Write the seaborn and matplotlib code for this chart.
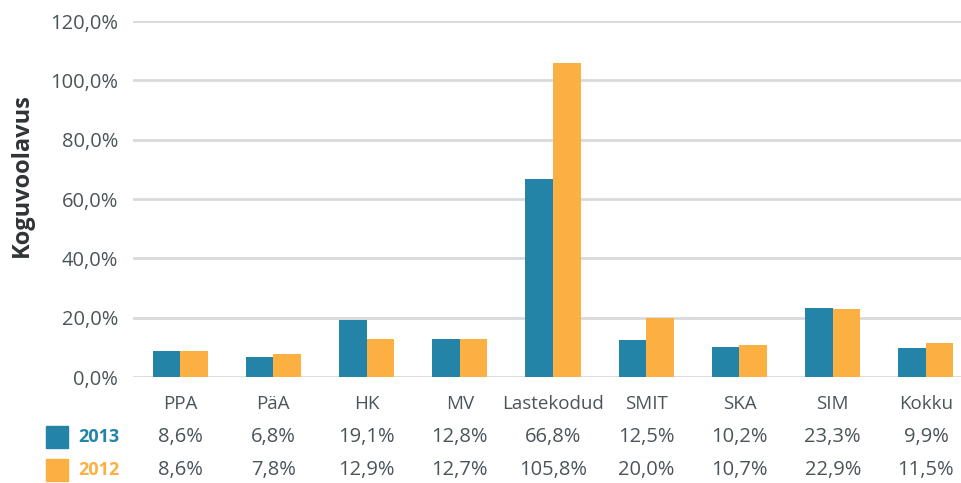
import matplotlib
matplotlib.use("Agg")
import matplotlib.pyplot as plt
import matplotlib.transforms as mtransforms
from matplotlib.patches import Rectangle
import seaborn as sns
import pandas as pd

categories = ["PPA", "PäA", "HK", "MV", "Lastekodud", "SMIT", "SKA", "SIM", "Kokku"]
values_2013 = [8.6, 6.8, 19.1, 12.8, 66.8, 12.5, 10.2, 23.3, 9.9]
values_2012 = [8.6, 7.8, 12.9, 12.7, 105.8, 20.0, 10.7, 22.9, 11.5]
series = ["2013", "2012"]
yticks = [0, 20, 40, 60, 80, 100, 120]

teal = "#2384a8"
orange = "#fbb041"
text_col = "#4b5559"

sns.set_theme(style="white")
plt.rcParams["font.family"] = ["Open Sans", "DejaVu Sans"]

df = pd.DataFrame({
    "cat": categories * 2,
    "year": [series[0]] * len(categories) + [series[1]] * len(categories),
    "val": values_2013 + values_2012,
})

fig = plt.figure(figsize=(9.61, 4.83), dpi=100)
ax = fig.add_axes([133.4 / 961, 1 - 377 / 483, (972.6 - 133.4) / 961, (377 - 21) / 483])

sns.barplot(data=df, x="cat", y="val", hue="year", hue_order=series,
            palette=[teal, orange], saturation=1, width=0.59, linewidth=0, ax=ax,
            legend=False, errorbar=None)

ax.set_ylim(0, 120)
ax.set_xlim(-0.5, len(categories) - 0.5)
ax.set_yticks(yticks)
ax.set_yticklabels([f"{v:.1f}".replace(".", ",") + "%" for v in yticks],
                   fontsize=14.5, color=text_col)
ax.tick_params(axis="y", length=0, pad=11)
ax.tick_params(axis="x", length=0)
ax.set_xticks(range(len(categories)))
ax.set_xticklabels([])
ax.set_xlabel("")
ax.set_ylabel("")
for s in ax.spines.values():
    s.set_visible(False)
ax.yaxis.grid(True, color="#d9d9d9", linewidth=2)
ax.set_axisbelow(True)

fig.text(22 / 961, 1 - 175 / 483, "Koguvoolavus", rotation=90, fontsize=17,
         fontweight="bold", color="#2f3437", ha="center", va="center")

trans = mtransforms.blended_transform_factory(ax.transData, fig.transFigure)
row_y = [1 - 404 / 483, 1 - 437 / 483, 1 - 470 / 483]
for i, c in enumerate(categories):
    ax.text(i, row_y[0], c, transform=trans, ha="center", va="center",
            fontsize=13.5, color=text_col)
    ax.text(i, row_y[1], f"{values_2013[i]:.1f}".replace(".", ",") + "%",
            transform=trans, ha="center", va="center", fontsize=14.5, color=text_col)
    ax.text(i, row_y[2], f"{values_2012[i]:.1f}".replace(".", ",") + "%",
            transform=trans, ha="center", va="center", fontsize=14.5, color=text_col)

for lbl, col, y in zip(series, [teal, orange], row_y[1:]):
    fig.patches.append(Rectangle((46 / 961, y - 11 / 483), 22 / 961, 22 / 483,
                                 transform=fig.transFigure, color=col))
    fig.text(78 / 961, y, lbl, fontsize=13, fontweight="bold", color=col,
             ha="left", va="center")

fig.savefig("out.png", dpi=100)
